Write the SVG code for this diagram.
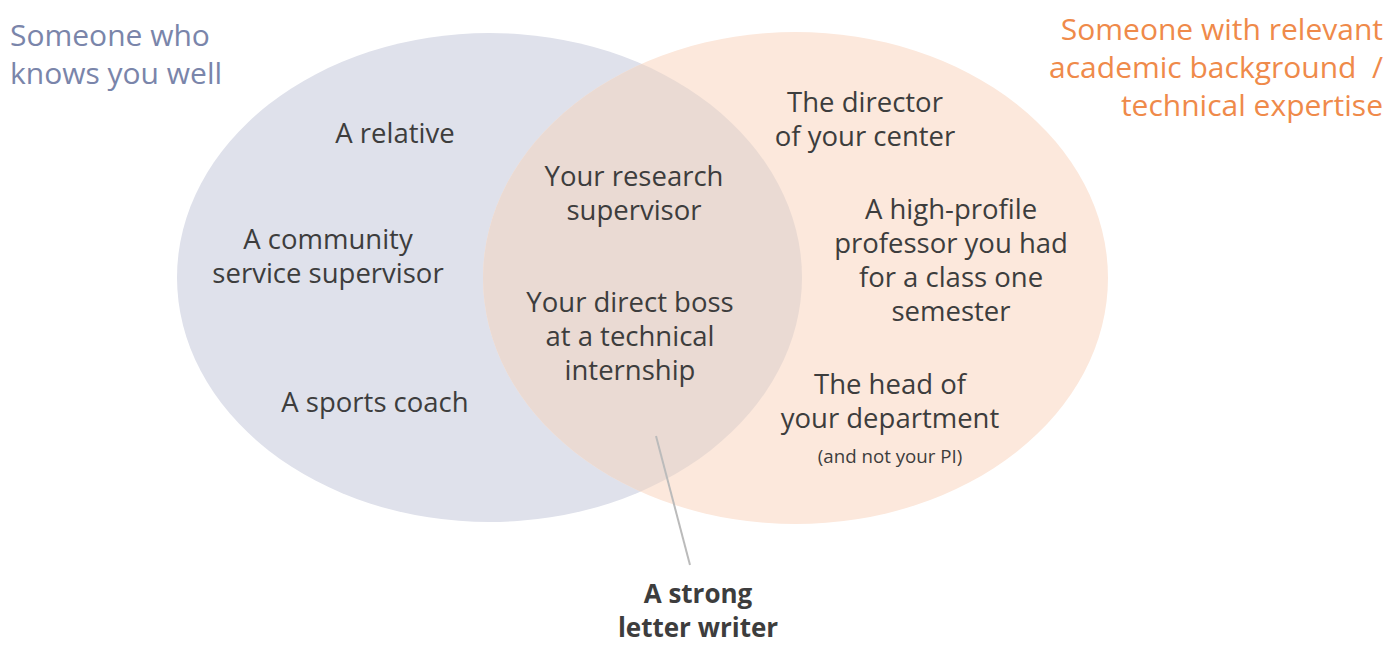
<svg xmlns="http://www.w3.org/2000/svg" width="1396" height="664" viewBox="0 0 1396 664">
<style>
.t{font-family:"Open Sans","Noto Sans",sans-serif;font-size:27.5px;fill:#3d3d3d;text-anchor:middle}
.s{font-size:18.7px}
.b{font-weight:bold;font-size:26px}
.tl{font-family:"Open Sans","Noto Sans",sans-serif;font-size:30px}
</style>
<defs>
<clipPath id="cr"><ellipse cx="795.5" cy="278" rx="312.5" ry="246"/></clipPath>
</defs>
<rect width="1396" height="664" fill="#fff"/>
<g id="set-left"><ellipse cx="489.5" cy="277.5" rx="312.5" ry="244.5" fill="#dfe1eb"/></g>
<g id="set-right"><ellipse cx="795.5" cy="278" rx="312.5" ry="246" fill="#fce8dc"/></g>
<g id="set-overlap"><ellipse cx="489.5" cy="277.5" rx="312.5" ry="244.5" fill="#eadad3" clip-path="url(#cr)"/></g>
<g id="title-left"><text class="tl" fill="#7a85aa" x="10" y="46">Someone who</text><text class="tl" fill="#7a85aa" x="10" y="84">knows you well</text></g>
<g id="title-right"><text class="tl" fill="#ef8a4a" text-anchor="end" x="1383" y="40">Someone with relevant</text><text class="tl" fill="#ef8a4a" text-anchor="end" x="1383" y="78" xml:space="preserve">academic background  /</text><text class="tl" fill="#ef8a4a" text-anchor="end" x="1383" y="116">technical expertise</text></g>
<g id="n-relative"><text class="t" x="395" y="143">A relative</text></g>
<g id="n-community"><text class="t" x="328" y="249">A community</text><text class="t" x="328" y="283">service supervisor</text></g>
<g id="n-coach"><text class="t" x="375" y="412">A sports coach</text></g>
<g id="n-research"><text class="t" x="634" y="186">Your research</text><text class="t" x="634" y="220">supervisor</text></g>
<g id="n-boss"><text class="t" x="630" y="312">Your direct boss</text><text class="t" x="630" y="346">at a technical</text><text class="t" x="630" y="380">internship</text></g>
<g id="n-director"><text class="t" x="865" y="112">The director</text><text class="t" x="865" y="146">of your center</text></g>
<g id="n-professor"><text class="t" x="951" y="219">A high-profile</text><text class="t" x="951" y="253">professor you had</text><text class="t" x="951" y="287">for a class one</text><text class="t" x="951" y="321">semester</text></g>
<g id="n-head"><text class="t" x="890" y="394">The head of</text><text class="t" x="890" y="428">your department</text><text class="t s" x="890" y="463">(and not your PI)</text></g>
<g id="connectors"><line x1="656" y1="436" x2="690" y2="565" stroke="#bbbbbb" stroke-width="2"/></g>
<g id="n-strong"><text class="t b" x="698" y="603">A strong</text><text class="t b" x="698" y="637">letter writer</text></g>
</svg>
